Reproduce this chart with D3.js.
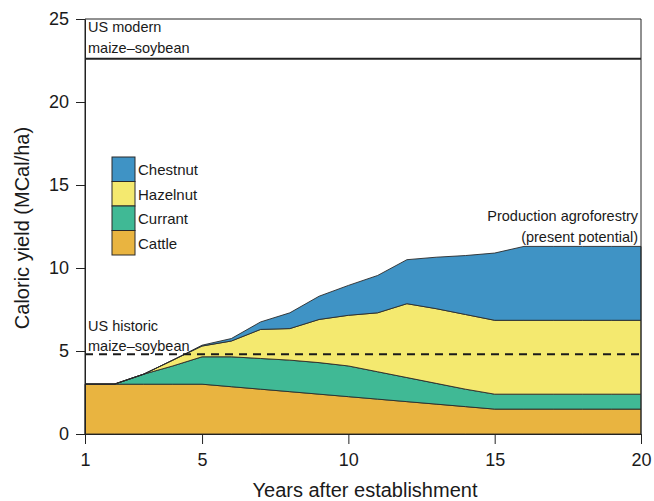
<!DOCTYPE html>
<html><head><meta charset="utf-8">
<script src="https://cdn.jsdelivr.net/npm/d3@7"></script>
<style>
body{margin:0;background:#fff;}
text{font-family:"Liberation Sans",Arial,Helvetica,sans-serif;fill:#1a1a1a;}
</style></head>
<body><svg id="c" width="654" height="501"></svg>
<script>
const years = [1,2,3,4,5,6,7,8,9,10,11,12,13,14,15,16,17,18,19,20];
const cattle   = [3.0,3.0,3.0,3.0,3.0,2.85,2.7,2.55,2.4,2.25,2.1,1.95,1.8,1.65,1.5,1.5,1.5,1.5,1.5,1.5];
const currant  = [0,0,0.6,1.1,1.65,1.8,1.85,1.9,1.9,1.85,1.65,1.45,1.25,1.05,0.9,0.9,0.9,0.9,0.9,0.9];
const hazelnut = [0,0,0,0.35,0.65,0.95,1.75,1.9,2.6,3.05,3.55,4.45,4.5,4.5,4.45,4.45,4.45,4.45,4.45,4.45];
const chestnut = [0,0,0,0,0.05,0.15,0.45,0.95,1.4,1.8,2.25,2.65,3.1,3.55,4.05,4.45,4.45,4.45,4.45,4.45];
const seriesNames = ["Cattle","Currant","Hazelnut","Chestnut"];
const seriesColors = ["#e9b440","#40b995","#f4e96f","#3f93c5"];
const xTicks = [1,5,10,15,20];
const yTicks = [0,5,10,15,20,25];
const modernYield = 22.6;
const historicYield = 4.8;

const svg = d3.select("#c");
const x = d3.scaleLinear().domain([1,20]).range([85,641]);
const y = d3.scaleLinear().domain([0,25]).range([434,19]);

const table = years.map((yr,i)=>({year:yr, Cattle:cattle[i], Currant:currant[i], Hazelnut:hazelnut[i], Chestnut:chestnut[i]}));
const stack = d3.stack().keys(seriesNames)(table);
const area = d3.area().x(d=>x(d.data.year)).y0(d=>y(d[0])).y1(d=>y(d[1]));

svg.append("g").selectAll("path").data(stack).join("path")
  .attr("d",area).attr("fill",(d,i)=>seriesColors[i])
  .attr("stroke","#2a2a2a").attr("stroke-width",0.9).attr("stroke-linejoin","round");

// box (top, left, right)
svg.append("path").attr("d",`M${x(1)},${y(0)}V${y(25)}H${x(20)}V${y(0)}`)
  .attr("fill","none").attr("stroke","#222").attr("stroke-width",1);

// modern line
svg.append("line").attr("x1",x(1)).attr("x2",x(20)).attr("y1",y(modernYield)).attr("y2",y(modernYield))
  .attr("stroke","#222").attr("stroke-width",2);
// historic dashed
svg.append("line").attr("x1",x(1)).attr("x2",x(20)).attr("y1",y(historicYield)).attr("y2",y(historicYield))
  .attr("stroke","#1a1a1a").attr("stroke-width",2).attr("stroke-dasharray","8,6");

// axes
const ya = svg.append("g").attr("transform",`translate(${x(1)},0)`)
  .call(d3.axisLeft(y).tickValues(yTicks).tickSize(9).tickPadding(7).tickSizeOuter(0));
ya.select(".domain").attr("stroke","#222");
ya.selectAll(".tick line").attr("stroke","#222");
ya.selectAll("text").style("font-size","18px").attr("fill","#1a1a1a");

const xa = svg.append("g").attr("transform",`translate(0,${y(0)})`)
  .call(d3.axisBottom(x).tickValues(xTicks).tickSize(10).tickPadding(9).tickSizeOuter(0));
xa.select(".domain").attr("stroke","#222");
xa.selectAll(".tick line").attr("stroke","#222");
xa.selectAll("text").style("font-size","18px").attr("fill","#1a1a1a");

// axis titles
svg.append("text").attr("x",365).attr("y",497).attr("text-anchor","middle").style("font-size","20px").text("Years after establishment");
svg.append("text").attr("transform","translate(29,228) rotate(-90)").attr("text-anchor","middle").style("font-size","20px").text("Caloric yield (MCal/ha)");

// annotations
const ann = [
  {t:"US modern", x:88, y:32, a:"start"},
  {t:"maize\u2013soybean", x:88, y:53, a:"start"},
  {t:"US historic", x:88, y:331, a:"start"},
  {t:"maize\u2013soybean", x:88, y:351, a:"start"},
  {t:"Production agroforestry", x:638, y:221, a:"end"},
  {t:"(present potential)", x:638, y:242, a:"end"}
];
svg.append("g").selectAll("text").data(ann).join("text")
  .attr("x",d=>d.x).attr("y",d=>d.y).attr("text-anchor",d=>d.a).style("font-size","14.5px").text(d=>d.t);

// legend
const legNames = seriesNames.slice().reverse();
const legColors = seriesColors.slice().reverse();
const lg = svg.append("g").attr("transform","translate(112,157)");
legNames.forEach((n,i)=>{
  lg.append("rect").attr("x",0).attr("y",i*24.5).attr("width",23).attr("height",24.5)
    .attr("fill",legColors[i]).attr("stroke","#2a2a2a").attr("stroke-width",1);
  lg.append("text").attr("x",26).attr("y",i*24.5+18).style("font-size","15px").text(n);
});
</script></body></html>
